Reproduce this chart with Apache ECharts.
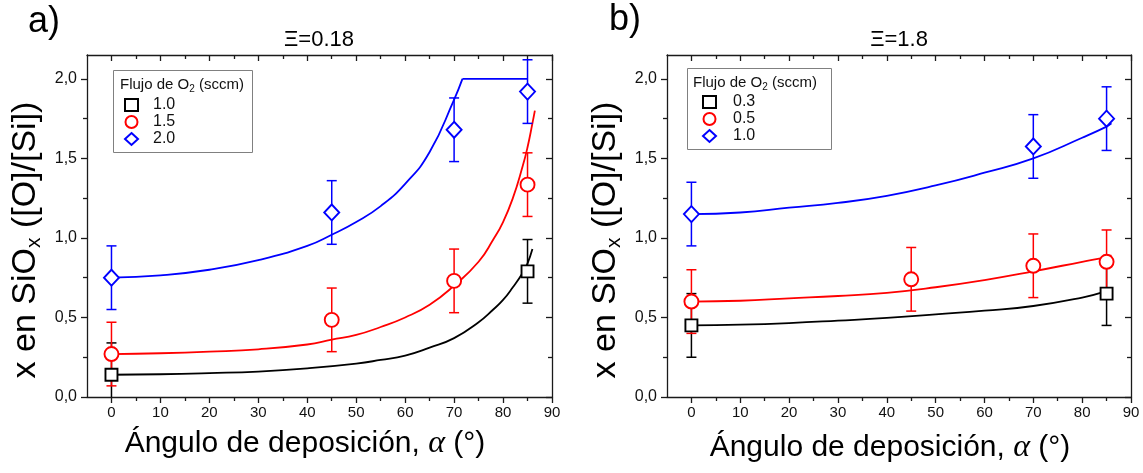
<!DOCTYPE html>
<html><head><meta charset="utf-8">
<script src="https://cdn.jsdelivr.net/npm/echarts@6/dist/echarts.min.js"></script>
<style>html,body{margin:0;padding:0;background:#fff}#c{width:1143px;height:473px}</style>
</head><body><div id="c"></div>
<script>
// ---------- tick labels ----------
const xMajorTicks = [0, 10, 20, 30, 40, 50, 60, 70, 80, 90];
const xMinorTicks = [5, 15, 25, 35, 45, 55, 65, 75, 85];
const yMajorTicks = [0, 0.5, 1.0, 1.5, 2.0];
const yMinorTicks = [0.25, 0.75, 1.25, 1.75];
const panelTitles = ['\u039E=0.18', '\u039E=1.8'];
const panelLetters = ['a)', 'b)'];

// ---------- panel a (Xi = 0.18) ----------
const aNames = ['1.0', '1.5', '2.0'];
const aBlackX = [0, 85];          const aBlackY = [0.14, 0.79];             const aBlackErr = [0.2, 0.2];
const aRedX = [0, 45, 70, 85];    const aRedY = [0.27, 0.485, 0.73, 1.335]; const aRedErr = [0.2, 0.2, 0.2, 0.2];
const aBlueX = [0, 45, 70, 85];   const aBlueY = [0.75, 1.16, 1.68, 1.92];  const aBlueErr = [0.2, 0.2, 0.2, 0.2];
const aBlackFit = [[0,0.14],[10,0.143],[20,0.15],[30,0.16],[40,0.18],[50,0.21],[55,0.233],[60,0.26],[65,0.31],[70,0.37],[75,0.47],[78,0.55],[80,0.61],[82,0.69],[84,0.78],[85,0.84],[86,0.93]];
const aRedFit = [[0,0.27],[10,0.275],[20,0.285],[30,0.30],[40,0.33],[45,0.36],[50,0.39],[55,0.44],[60,0.50],[65,0.58],[70,0.70],[75,0.85],[78,0.99],[80,1.10],[82,1.25],[84,1.45],[85,1.57],[86,1.72],[86.5,1.80]];
const aBlueFit = [[0,0.75],[10,0.765],[20,0.80],[30,0.86],[40,0.95],[45,1.02],[50,1.10],[55,1.20],[60,1.34],[65,1.54],[70,1.87],[71.7,2.0]];
const aBluePlateau = [[71.7,2.0],[85,2.0]];

// ---------- panel b (Xi = 1.8) ----------
const bNames = ['0.3', '0.5', '1.0'];
const bBlackX = [0, 85];          const bBlackY = [0.45, 0.65];             const bBlackErr = [0.2, 0.2];
const bRedX = [0, 45, 70, 85];    const bRedY = [0.60, 0.74, 0.825, 0.85];  const bRedErr = [0.2, 0.2, 0.2, 0.2];
const bBlueX = [0, 70, 85];       const bBlueY = [1.15, 1.575, 1.75];       const bBlueErr = [0.2, 0.2, 0.2];
const bBlackFit = [[0,0.45],[10,0.455],[20,0.465],[30,0.48],[40,0.497],[50,0.52],[60,0.543],[70,0.572],[80,0.625],[85,0.665]];
const bRedFit = [[0,0.60],[10,0.605],[20,0.62],[30,0.635],[40,0.655],[50,0.69],[60,0.735],[70,0.79],[80,0.85],[85,0.88],[86,0.89]];
const bBlueFit = [[0,1.15],[10,1.16],[20,1.19],[30,1.22],[40,1.265],[50,1.33],[60,1.41],[70,1.50],[80,1.63],[85,1.70],[86,1.72]];

const X_MIN = -5, X_MAX = 90, Y_MIN = 0, Y_MAX = 2.15;
const FONT = '"Liberation Sans", Arial, sans-serif';
const AX = '#1a1a1a';
const BLACK = '#000000', RED = '#ff0000', BLUE = '#0000ff';

const grids = [
  {left: 87, top: 55, width: 465, height: 342},
  {left: 667, top: 55, width: 464, height: 342}
];

const xAxes = [], yAxes = [], series = [];

function mkX(g, pos, ticks, len, inside, showLine, showLabel) {
  return {type: 'value', gridIndex: g, position: pos, min: X_MIN, max: X_MAX,
    axisLine: {show: showLine, onZero: false, lineStyle: {color: AX, width: 1.3}},
    axisTick: {show: true, customValues: ticks, length: len, inside: inside, lineStyle: {color: AX, width: 1.3}},
    axisLabel: {show: showLabel, customValues: ticks, fontSize: 15, fontFamily: FONT, color: '#111', margin: 8},
    splitLine: {show: false}, minorTick: {show: false}};
}
function mkY(g, pos, ticks, len, inside, showLine, showLabel) {
  return {type: 'value', gridIndex: g, position: pos, min: Y_MIN, max: Y_MAX,
    axisLine: {show: showLine, onZero: false, lineStyle: {color: AX, width: 1.3}},
    axisTick: {show: true, customValues: ticks, length: len, inside: inside, lineStyle: {color: AX, width: 1.3}},
    axisLabel: {show: showLabel, customValues: ticks, fontSize: 16, fontFamily: FONT, color: '#111', margin: 10,
      formatter: v => Number(v).toFixed(1).replace('.', ',')},
    splitLine: {show: false}, minorTick: {show: false}};
}
for (let g = 0; g < 2; g++) {
  xAxes.push(mkX(g, 'bottom', xMajorTicks, 6, false, true, true));
  xAxes.push(mkX(g, 'bottom', xMinorTicks, 4, false, false, false));
  xAxes.push(mkX(g, 'top', xMajorTicks, 6, true, true, false));
  xAxes.push(mkX(g, 'top', xMinorTicks, 4, true, false, false));
  yAxes.push(mkY(g, 'left', yMajorTicks, 6, false, true, true));
  yAxes.push(mkY(g, 'left', yMinorTicks, 4, false, false, false));
  yAxes.push(mkY(g, 'right', yMajorTicks, 6, true, true, false));
  yAxes.push(mkY(g, 'right', yMinorTicks, 4, true, false, false));
}

function errRender(color) {
  return function (params, api) {
    const x = api.value(0), y = api.value(1), e = api.value(2);
    const top = api.coord([x, y + e]), bot = api.coord([x, y - e]);
    const hw = 5, st = {stroke: color, lineWidth: 1.5};
    return {type: 'group', children: [
      {type: 'line', shape: {x1: top[0], y1: top[1], x2: bot[0], y2: bot[1]}, style: st},
      {type: 'line', shape: {x1: top[0] - hw, y1: top[1], x2: top[0] + hw, y2: top[1]}, style: st},
      {type: 'line', shape: {x1: bot[0] - hw, y1: bot[1], x2: bot[0] + hw, y2: bot[1]}, style: st}
    ]};
  };
}

function fitLine(g, data, color) {
  const ai = g * 4;
  return {type: 'line', xAxisIndex: ai, yAxisIndex: ai, data: data, showSymbol: false, symbol: 'none',
    smooth: 0.5, lineStyle: {color: color, width: 1.8}, silent: true, z: 2};
}

function addGroup(g, name, xs, ys, errs, fit, color, symbol, size) {
  const ai = g * 4;
  series.push(fitLine(g, fit, color));
  series.push({type: 'custom', xAxisIndex: ai, yAxisIndex: ai, clip: true,
    data: xs.map((x, i) => [x, ys[i], errs[i]]), renderItem: errRender(color), silent: true, z: 3});
  series.push({type: 'scatter', name: name, xAxisIndex: ai, yAxisIndex: ai,
    data: xs.map((x, i) => [x, ys[i]]), symbol: symbol, symbolSize: size,
    itemStyle: {color: '#ffffff', borderColor: color, borderWidth: 1.9, opacity: 1}, z: 4});
}

addGroup(0, 'a#' + aNames[0], aBlackX, aBlackY, aBlackErr, aBlackFit, BLACK, 'rect', 12);
addGroup(0, 'a#' + aNames[1], aRedX, aRedY, aRedErr, aRedFit, RED, 'circle', 14);
addGroup(0, 'a#' + aNames[2], aBlueX, aBlueY, aBlueErr, aBlueFit, BLUE, 'diamond', [15, 16]);
series.push(fitLine(0, aBluePlateau, BLUE));
addGroup(1, 'b#' + bNames[0], bBlackX, bBlackY, bBlackErr, bBlackFit, BLACK, 'rect', 12);
addGroup(1, 'b#' + bNames[1], bRedX, bRedY, bRedErr, bRedFit, RED, 'circle', 14);
addGroup(1, 'b#' + bNames[2], bBlueX, bBlueY, bBlueErr, bBlueFit, BLUE, 'diamond', [15, 16]);

function mkLegend(prefix, names, left, top, pad) {
  return {orient: 'vertical', left: left, top: top, padding: 0, itemGap: 1, itemWidth: 13, itemHeight: 12,
    selectedMode: false, data: names.map(n => prefix + '#' + n),
    formatter: n => n.split('#')[1],
    textStyle: {fontSize: 16, fontFamily: FONT, color: '#111', lineHeight: 14, padding: [0, 0, 0, pad]}};
}

const richTitle = {
  n: {fontSize: 15, fontFamily: FONT, fill: '#111', lineHeight: 18},
  s: {fontSize: 10, fontFamily: FONT, fill: '#111', lineHeight: 18, verticalAlign: 'bottom', padding: [8, 0, 0, 0]}
};
const richY = {
  n: {fontSize: 34, fontFamily: FONT, fill: '#000', lineHeight: 40},
  s: {fontSize: 21, fontFamily: FONT, fill: '#000', lineHeight: 40, padding: [17, 0, 0, 0]}
};
const richX = {
  n: {fontSize: 30, fontFamily: FONT, fill: '#000'},
  a: {fontSize: 32, fontFamily: '"Liberation Serif", serif', fontStyle: 'italic', fill: '#000'}
};

function txt(x, y, text, size, align) {
  return {type: 'text', x: x, y: y, z: 10,
    style: {text: text, fontSize: size, fontFamily: FONT, fill: '#000', align: align, verticalAlign: 'middle',
      textAlign: align, textVerticalAlign: 'middle'}};
}

const graphics = [
  txt(28, 22, panelLetters[0], 36, 'left'),
  txt(609, 20, panelLetters[1], 36, 'left'),
  txt(319, 40, panelTitles[0], 22, 'center'),
  txt(899, 40, panelTitles[1], 22, 'center'),
  // legend boxes
  {type: 'rect', z: 1, shape: {x: 113.5, y: 70.5, width: 139, height: 82}, style: {fill: '#fff', stroke: '#808080', lineWidth: 1}},
  {type: 'rect', z: 1, shape: {x: 687.5, y: 68.5, width: 144, height: 81}, style: {fill: '#fff', stroke: '#808080', lineWidth: 1}},
  {type: 'text', x: 120, y: 85, z: 10, style: {text: '{n|Flujo de O}{s|2}{n| (sccm)}', rich: richTitle, verticalAlign: 'middle', textVerticalAlign: 'middle'}},
  {type: 'text', x: 693, y: 83, z: 10, style: {text: '{n|Flujo de O}{s|2}{n| (sccm)}', rich: richTitle, verticalAlign: 'middle', textVerticalAlign: 'middle'}},
  // axis titles
  {type: 'text', x: 26, y: 240, rotation: Math.PI / 2, z: 10, style: {text: '{n|x en SiO}{s|x}{n| ([O]/[Si])}', rich: richY, align: 'center', verticalAlign: 'middle', textAlign: 'center', textVerticalAlign: 'middle'}},
  {type: 'text', x: 606, y: 240, rotation: Math.PI / 2, z: 10, style: {text: '{n|x en SiO}{s|x}{n| ([O]/[Si])}', rich: richY, align: 'center', verticalAlign: 'middle', textAlign: 'center', textVerticalAlign: 'middle'}},
  {type: 'text', x: 305, y: 444, z: 10, style: {text: '{n|\u00C1ngulo de deposici\u00F3n, }{a|\u03B1}{n| (\u00B0)}', rich: richX, align: 'center', verticalAlign: 'middle', textAlign: 'center', textVerticalAlign: 'middle'}},
  {type: 'text', x: 890, y: 448, z: 10, style: {text: '{n|\u00C1ngulo de deposici\u00F3n, }{a|\u03B1}{n| (\u00B0)}', rich: richX, align: 'center', verticalAlign: 'middle', textAlign: 'center', textVerticalAlign: 'middle'}}
];

const chart = echarts.init(document.getElementById('c'), null, {renderer: 'canvas'});
chart.setOption({
  animation: false,
  backgroundColor: '#ffffff',
  grid: grids,
  xAxis: xAxes,
  yAxis: yAxes,
  legend: [mkLegend('a', aNames, 124, 97, 10), mkLegend('b', bNames, 702, 94, 12)],
  graphic: {elements: graphics},
  series: series
});
</script>
</body></html>
